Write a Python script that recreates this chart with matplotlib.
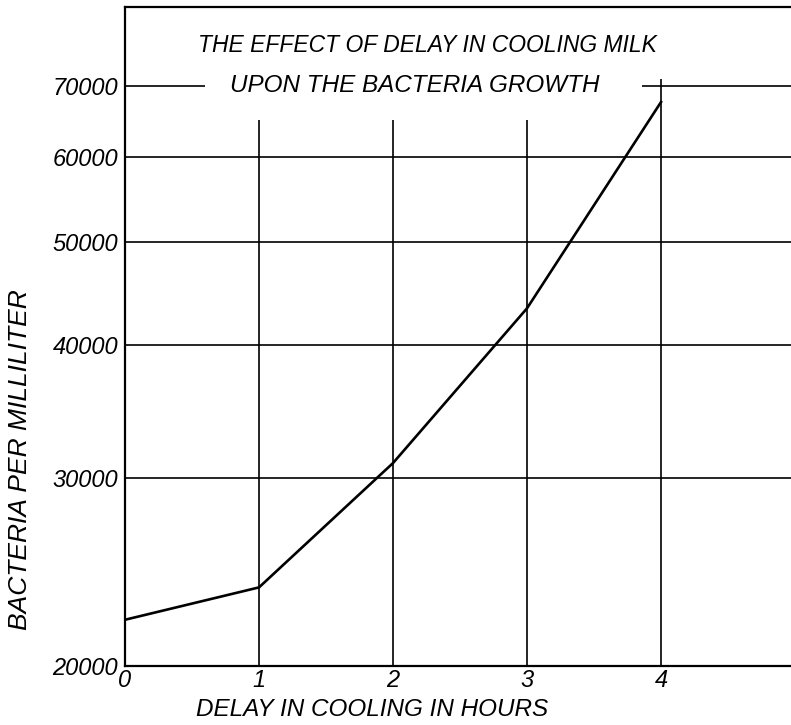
import matplotlib.pyplot as plt
from matplotlib.ticker import FixedLocator, NullLocator

# delay in cooling (hours) vs bacteria per milliliter
delay_hours = [0, 1, 2, 3, 4]
bacteria_per_ml = [22100, 23700, 31000, 43300, 67600]

ytick_vals = [20000, 30000, 40000, 50000, 60000, 70000]
ytick_labels = ["20000", "30000", "40000", "50000", "60000", "70000"]
xtick_vals = [0, 1, 2, 3, 4]
xtick_labels = ["0", "1", "2", "3", "4"]

font = {"family": "Liberation Sans", "style": "italic"}

fig = plt.figure(figsize=(7.91, 7.25), dpi=100)
ax = fig.add_axes([125 / 791, 59 / 725, 666 / 791, 659 / 725])
ax.set_yscale("log")
ax.set_xlim(0, 4.97)
ax.set_ylim(20000, 83000)

# grid drawn like the original: lines stop short of the top
for y in ytick_vals[1:-1]:
    ax.axhline(y, color="black", lw=1.2, zorder=1)
ax.hlines(70000, 0, 0.6, color="black", lw=1.2, zorder=1)
ax.hlines(70000, 3.86, 4.97, color="black", lw=1.2, zorder=1)
for x in xtick_vals[1:4]:
    ax.vlines(x, 20000, 65000, color="black", lw=1.2, zorder=1)
ax.vlines(4, 20000, 71000, color="black", lw=1.2, zorder=1)

ax.plot(delay_hours, bacteria_per_ml, color="black", lw=1.9, zorder=3)

ax.yaxis.set_major_locator(FixedLocator(ytick_vals))
ax.yaxis.set_minor_locator(NullLocator())
ax.set_yticklabels(ytick_labels, fontdict=font, fontsize=17)
ax.set_xticks(xtick_vals)
ax.set_xticklabels(xtick_labels, fontdict=font, fontsize=17)
ax.tick_params(axis="both", length=0)
ax.tick_params(axis="y", pad=5)
ax.tick_params(axis="x", pad=2)

for side in ["left", "bottom", "top"]:
    ax.spines[side].set_linewidth(1.6)
ax.spines["right"].set_visible(False)

fig.text(372 / 791, 1 - 710 / 725, "DELAY IN COOLING IN HOURS", fontdict=font,
         fontsize=17.5, ha="center", va="center")
fig.text(20 / 791, 1 - 460 / 725, "BACTERIA PER MILLILITER", fontdict=font, fontsize=19,
         rotation=90, ha="center", va="center")

fig.text(427 / 791, 1 - 46 / 725, "THE EFFECT OF DELAY IN COOLING MILK", fontdict=font,
         fontsize=16.5, ha="center", va="center")
fig.text(415 / 791, 1 - 85 / 725, "UPON THE BACTERIA GROWTH", fontdict=font,
         fontsize=17.5, ha="center", va="center")

fig.savefig("out.png", dpi=100)
